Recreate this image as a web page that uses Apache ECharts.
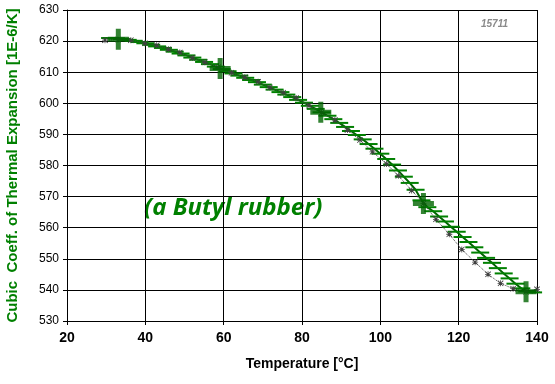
<!DOCTYPE html>
<html>
<head>
<meta charset="utf-8">
<script src="https://cdn.jsdelivr.net/npm/echarts@6/dist/echarts.min.js"></script>
<style>
  html, body { margin: 0; padding: 0; background: #fff; }
  #main { width: 555px; height: 384px; }
</style>
</head>
<body>
<div id="main"></div>
<script>
// measured points (green dashes + line)
var measT = [31, 32.5, 34, 35.5, 37, 38.5, 40, 41.5, 43, 44.5, 46, 47.5, 49, 50.5, 52, 53.5, 55, 56.5, 58, 59.5,
    61, 62.5, 64, 65.5, 67, 68.5, 70, 71.5, 73, 74.5, 76, 77.5, 79, 80.5, 82, 83.5, 85, 86.5, 88, 89.5,
    91, 92.5, 94, 95.5, 97, 98.5, 100, 101.5, 103, 104.5, 106, 107.5, 109, 110.5, 112, 113.5, 115, 116.5, 118, 119.5,
    121, 122.5, 124, 125.5, 127, 128.5, 130, 131.5, 133, 134.5, 136, 137.5, 139];
var measV = [621.0, 620.9, 620.7, 620.4, 620.1, 619.7, 619.3, 618.8, 618.3, 617.8, 617.2, 616.6, 616.0, 615.4, 614.7, 614.0, 613.3, 612.6, 611.8, 611.0,
    610.3, 609.6, 608.9, 608.2, 607.5, 606.8, 606.0, 605.2, 604.4, 603.6, 602.8, 602.0, 601.1, 600.2, 599.2, 598.2, 597.1, 596.0, 594.9, 593.7,
    592.4, 591.1, 589.8, 588.4, 586.9, 585.4, 583.8, 582.1, 580.3, 578.4, 576.4, 574.4, 572.2, 568.8, 566.6, 565.3, 563.6, 562.0, 560.3, 558.7,
    557.0, 555.4, 553.7, 552.0, 550.3, 548.7, 547.0, 545.3, 543.7, 542.0, 540.5, 539.5, 539.2];

// reference points (big crosses)
var refT = [33.1, 59.1, 84.8, 111.0, 137.2];
var refV = [620.6, 611.2, 597.1, 567.8, 539.4];

// second data set (grey asterisks, dotted)
var grayT = [29.7, 33.0, 36.3, 39.9, 42.9, 45.9, 48.8, 52.0, 55.2, 58.6, 62.0, 65.4, 68.8, 71.8, 75.2, 78.5, 81.8, 85.0,
    88.4, 91.6, 94.8, 98.0, 101.6, 104.6, 108.0, 111.0, 114.2, 117.6, 120.8, 124.2, 127.5, 130.7, 133.9, 137.2, 140.0];
var grayV = [620.3, 620.5, 620.3, 619.3, 618.7, 617.4, 616.3, 614.6, 613.2, 611.6, 609.8, 608.4, 606.9, 605.1, 603.4, 601.7, 599.3, 597.0,
    594.6, 591.4, 588.2, 584.4, 580.5, 576.7, 572.0, 567.8, 562.7, 557.9, 553.0, 548.9, 545.0, 542.1, 540.4, 539.4, 540.2];

function pairs(xs, ys) {
    return xs.map(function(x, i) { return [x, ys[i]]; });
}

var myChart = echarts.init(document.getElementById('main'));
var axisFont = 'Arial, "Liberation Sans", sans-serif';

var option = {
    animation: false,
    grid: { left: 67, right: 18, top: 10, bottom: 63, containLabel: false, outerBoundsMode: 'none' },
    xAxis: {
        type: 'value',
        min: 20, max: 140, interval: 20,
        name: 'Temperature [°C]',
        nameLocation: 'middle',
        nameGap: 36,
        nameTextStyle: { fontFamily: axisFont, fontWeight: 'bold', fontSize: 14, color: '#000' },
        axisLine: { show: true, lineStyle: { color: '#000', width: 1 } },
        axisTick: { show: true, length: 4, lineStyle: { color: '#000' } },
        axisLabel: { fontFamily: axisFont, fontWeight: 'bold', fontSize: 14, color: '#000', margin: 10 },
        splitLine: { show: true, lineStyle: { color: '#000', width: 1 } }
    },
    yAxis: {
        type: 'value',
        min: 530, max: 630, interval: 10,
        name: 'Cubic  Coeff. of Thermal Expansion [1E-6/K]',
        nameLocation: 'middle',
        nameGap: 47,
        nameTextStyle: { fontFamily: axisFont, fontWeight: 'bold', fontSize: 15, color: '#008000' },
        axisLine: { show: true, lineStyle: { color: '#000', width: 1 } },
        axisTick: { show: true, length: 4, lineStyle: { color: '#000' } },
        axisLabel: { fontFamily: axisFont, fontSize: 12, color: '#000', margin: 8 },
        splitLine: { show: true, lineStyle: { color: '#000', width: 1 } }
    },
    graphic: [
        {
            type: 'text', left: 144, top: 196,
            style: { text: '(a Butyl rubber)', fill: '#008000', font: 'italic bold 24px "Open Sans", Lato, sans-serif' }
        },
        {
            type: 'text', left: 481, top: 19,
            style: { text: '15711', fill: '#8a8a8a', font: 'italic bold 10px Arial, "Liberation Sans", sans-serif' }
        }
    ],
    series: [
        {
            name: 'measured',
            type: 'line',
            data: pairs(measT, measV),
            symbol: 'rect',
            symbolSize: [18, 2],
            itemStyle: { color: '#008000' },
            lineStyle: { color: '#006400', width: 2 },
            z: 2
        },
        {
            name: 'second',
            type: 'line',
            data: pairs(grayT, grayV),
            symbol: 'path://M0,2.6H6V3.4H0Z M2.6,0H3.4V6H2.6Z M0.6,0L6,5.4L5.4,6L0,0.6Z M6,0.6L0.6,6L0,5.4L5.4,0Z',
            symbolSize: 6,
            itemStyle: { color: '#404040' },
            lineStyle: { color: '#404040', width: 1, type: 'dotted' },
            z: 3
        },
        {
            name: 'reference',
            type: 'scatter',
            data: pairs(refT, refV),
            symbol: 'path://M0,8H8V0H13V8H21V13H13V21H8V13H0Z',
            symbolSize: 21,
            itemStyle: { color: '#006400' },
            z: 4
        }
    ]
};

myChart.setOption(option);
</script>
</body>
</html>
